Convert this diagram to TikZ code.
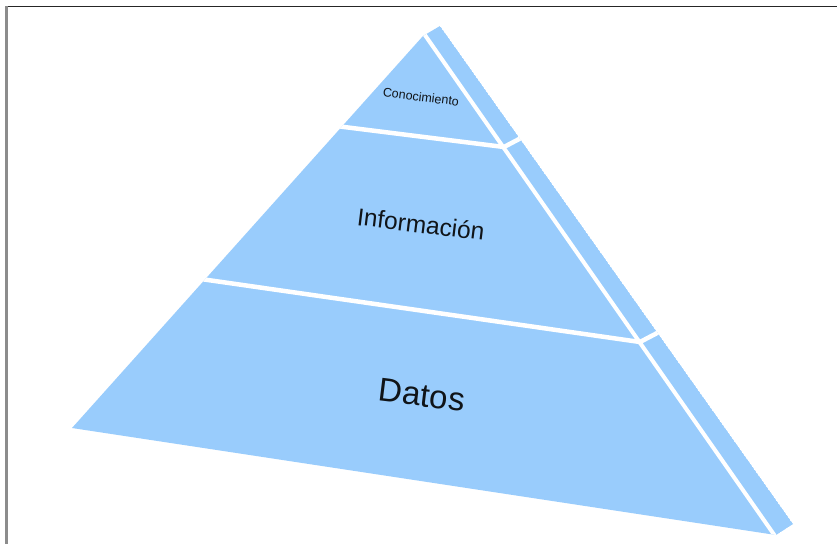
\documentclass[tikz,border=0pt]{standalone}
\usepackage{fontspec}
\setmainfont{Liberation Sans}
\definecolor{pyr}{HTML}{99CCFC}
\definecolor{txt}{HTML}{101418}
\begin{document}
\begin{tikzpicture}[x=1pt,y=-1pt,
  gap/.style={draw=white,line width=4.5pt,line cap=butt,line join=miter},
  lbl/.style={text=txt,inner sep=0pt,rotate=-7}]
\useasboundingbox (0,0) rectangle (837,544);
\fill[white] (0,0) rectangle (837,544);
% frame
\draw[color=black!85,line width=1.6pt] (6,6.5) -- (837,6.5);
\draw[color=black!45,line width=2.2pt] (6.5,6) -- (6.5,544);
% pyramid body
\coordinate (bl) at (72,428);
\coordinate (ap) at (423,36);
\coordinate (tp) at (440,26);
\coordinate (ob) at (793,524);
\coordinate (ib) at (776,535);
\begin{scope}
  \clip (bl) -- (ap) -- (tp) -- (ob) -- (ib) -- cycle;
  \fill[pyr] (bl) -- (ap) -- (tp) -- (ob) -- (ib) -- cycle;
  % gap between front and side
  \coordinate (g1) at (420,28);
  \coordinate (g2) at (782,546);
  \draw[gap,line width=4pt] (g1) -- (g2);
  % dividers
  \coordinate (d1a) at (180,276);
  \coordinate (d1b) at (640,342);
  \coordinate (d1c) at (680,321);
  \draw[gap] (d1a) -- (d1b) -- (d1c);
  \coordinate (d2a) at (320,124);
  \coordinate (d2b) at (504,147);
  \coordinate (d2c) at (540,128);
  \draw[gap] (d2a) -- (d2b) -- (d2c);
\end{scope}
% labels
\node[lbl,font=\fontsize{12.5}{14}\selectfont] (k) at (421,97) {Conocimiento};
\node[lbl,font=\fontsize{24.5}{28}\selectfont] (i) at (421,224) {Información};
\node[lbl,font=\fontsize{33}{38}\selectfont] (d) at (422,395) {Datos};
\end{tikzpicture}
\end{document}
